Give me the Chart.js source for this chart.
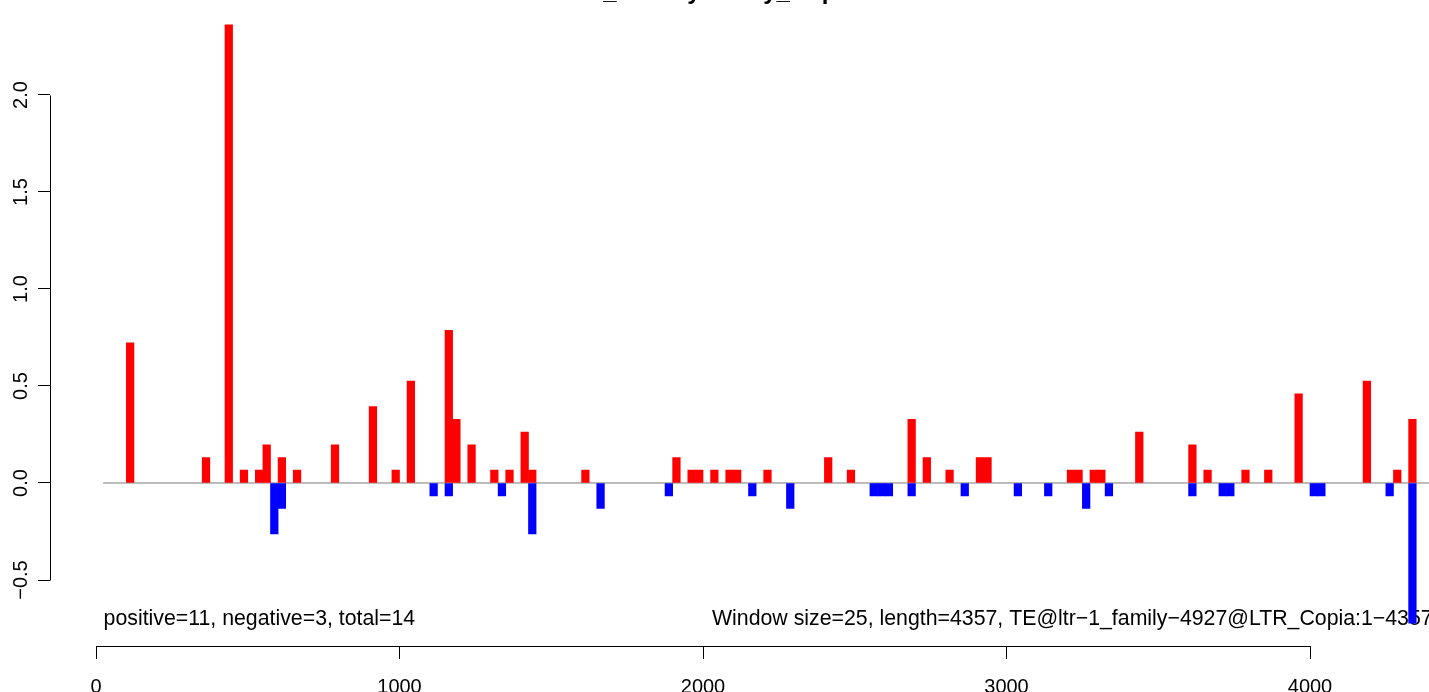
<!DOCTYPE html>
<html>
<head>
<meta charset="utf-8">
<script src="https://cdn.jsdelivr.net/npm/chart.js@4/dist/chart.umd.min.js"></script>
<style>
  html, body { margin: 0; padding: 0; background: #fff; overflow: hidden; width: 1429px; height: 692px; }
  #wrap { position: absolute; left: 0; top: -22px; width: 1429px; height: 714px; }
</style>
</head>
<body>
<div id="wrap"><canvas id="c" width="1429" height="714"></canvas></div>
<script>
// ---- data ----
const WINDOW = 25;
const titleText = "TE_density family_Copia";
const leftNote = "positive=11, negative=3, total=14";
const rightNote = "Window size=25, length=4357, TE@ltr\u22121_family\u22124927@LTR_Copia:1\u22124357";

const posStarts = [100, 350, 425, 475, 525, 550, 600, 650, 775, 900,
  975, 1025, 1150, 1175, 1225, 1300, 1350, 1400, 1425, 1600,
  1900, 1950, 1975, 2025, 2075, 2100, 2200, 2400, 2475, 2675,
  2725, 2800, 2900, 2925, 3200, 3225, 3275, 3300, 3425, 3600,
  3650, 3775, 3850, 3950, 4175, 4275, 4325];
const posValues = [0.722, 0.131, 2.362, 0.066, 0.066, 0.197, 0.131, 0.066, 0.197, 0.394,
  0.066, 0.525, 0.787, 0.328, 0.197, 0.066, 0.066, 0.262, 0.066, 0.066,
  0.131, 0.066, 0.066, 0.066, 0.066, 0.066, 0.066, 0.131, 0.066, 0.328,
  0.131, 0.066, 0.131, 0.131, 0.066, 0.066, 0.066, 0.066, 0.262, 0.197,
  0.066, 0.066, 0.066, 0.459, 0.525, 0.066, 0.328];

const negStarts = [575, 600, 1100, 1150, 1325, 1425, 1650, 1875, 2150, 2275,
  2550, 2575, 2600, 2675, 2850, 3025, 3125, 3250, 3325, 3600,
  3700, 3725, 4000, 4025, 4250, 4325];
const negValues = [-0.262, -0.131, -0.066, -0.066, -0.066, -0.262, -0.131, -0.066, -0.066, -0.131,
  -0.066, -0.066, -0.066, -0.066, -0.066, -0.066, -0.066, -0.131, -0.066, -0.066,
  -0.066, -0.066, -0.066, -0.066, -0.066, -0.722];

const xTicks = [0, 1000, 2000, 3000, 4000];
const yTicks = [-0.5, 0, 0.5, 1.0, 1.5, 2.0];
const zeroLineX = [23, 4392];

// ---- chart ----
const FONT = '"Liberation Sans", Arial, Helvetica, sans-serif';

const decor = {
  id: 'decor',
  beforeDatasetsDraw(chart) {
    const { ctx, chartArea, scales: { x } } = chart;
    ctx.save();
    ctx.fillStyle = '#000';
    ctx.font = '21.3px ' + FONT;
    ctx.textBaseline = 'alphabetic';
    ctx.textAlign = 'left';
    const by = chartArea.bottom - 21.5;
    ctx.fillText(leftNote, x.getPixelForValue(25), by);
    ctx.fillText(rightNote, 712, by);
    ctx.restore();
  },
  afterDraw(chart) {
    const { ctx, scales: { x, y } } = chart;
    ctx.save();
    ctx.strokeStyle = '#000';
    ctx.lineWidth = 1;
    ctx.beginPath();
    const ax = Math.round(x.left) + 0.5;
    ctx.moveTo(ax, Math.round(y.getPixelForValue(yTicks[0])) + 0.5);
    ctx.lineTo(ax, Math.round(y.getPixelForValue(yTicks[yTicks.length - 1])) + 0.5);
    const ay = Math.round(x.top) + 0.5;
    ctx.moveTo(Math.round(x.getPixelForValue(xTicks[0])) + 0.5, ay);
    ctx.lineTo(Math.round(x.getPixelForValue(xTicks[xTicks.length - 1])) + 0.5, ay);
    ctx.stroke();
    ctx.restore();
  }
};

new Chart(document.getElementById('c'), {
  type: 'bar',
  data: {
    datasets: [
      {
        type: 'bar',
        data: posStarts.map((s, i) => ({ x: s + WINDOW / 2, y: posValues[i] })),
        backgroundColor: '#FF0000',
        borderWidth: 0,
        grouped: false,
        barPercentage: 1,
        categoryPercentage: 1,
        order: 0
      },
      {
        type: 'bar',
        data: negStarts.map((s, i) => ({ x: s + WINDOW / 2, y: negValues[i] })),
        backgroundColor: '#0000FF',
        borderWidth: 0,
        grouped: false,
        barPercentage: 1,
        categoryPercentage: 1,
        order: 1
      },
      {
        type: 'line',
        data: zeroLineX.map(v => ({ x: v, y: 0 })),
        borderColor: '#7a7a7a',
        borderWidth: 1,
        pointRadius: 0,
        fill: false,
        order: 5
      }
    ]
  },
  options: {
    responsive: false,
    animation: false,
    devicePixelRatio: 1,
    layout: { padding: 0 },
    plugins: {
      legend: { display: false },
      tooltip: { enabled: false },
      title: {
        display: true,
        text: titleText,
        color: '#000',
        font: { family: FONT, size: 24, weight: 'bold' },
        padding: { top: 0, bottom: 0 }
      }
    },
    scales: {
      x: {
        type: 'linear',
        position: 'bottom',
        offset: false,
        min: -151.565,
        max: 4392.09,
        afterFit: s => { s.height = 46; },
        afterBuildTicks: s => { s.ticks = xTicks.map(v => ({ value: v })); },
        border: { display: false },
        grid: { display: true, offset: false, drawOnChartArea: false, drawTicks: true, tickLength: 13, color: '#000', lineWidth: 1 },
        ticks: {
          autoSkip: false, maxRotation: 0, minRotation: 0, padding: 16, color: '#000',
          font: { family: FONT, size: 20 },
          callback: v => String(v)
        }
      },
      y: {
        type: 'linear',
        position: 'left',
        min: -0.8402,
        max: 2.4546,
        afterFit: s => { s.width = 50; },
        afterBuildTicks: s => { s.ticks = yTicks.map(v => ({ value: v })); },
        border: { display: false },
        grid: { display: true, drawOnChartArea: false, drawTicks: true, tickLength: 12, color: '#000', lineWidth: 1 },
        ticks: {
          autoSkip: false, minRotation: 90, maxRotation: 90, padding: -3, crossAlign: 'center', color: '#000',
          font: { family: FONT, size: 20 },
          callback: v => Number(v).toFixed(1).replace('-', '\u2212')
        }
      }
    }
  },
  plugins: [decor]
});
</script>
</body>
</html>
